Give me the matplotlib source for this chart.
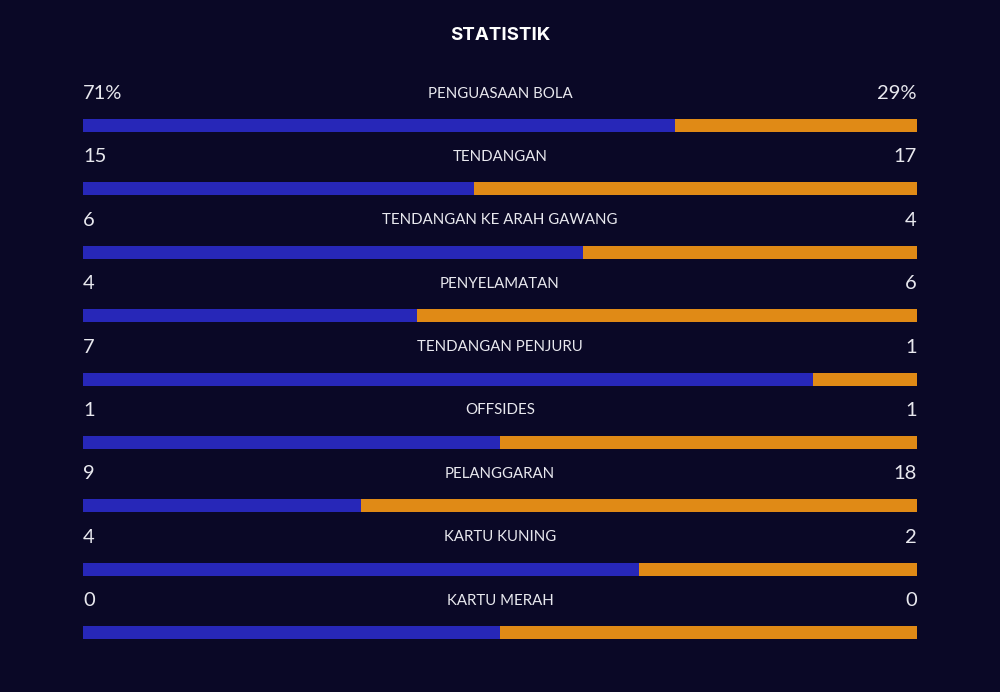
import numpy as np
import matplotlib.pyplot as plt

labels = ["PENGUASAAN BOLA", "TENDANGAN", "TENDANGAN KE ARAH GAWANG", "PENYELAMATAN",
          "TENDANGAN PENJURU", "OFFSIDES", "PELANGGARAN", "KARTU KUNING", "KARTU MERAH"]
home = [71, 15, 6, 4, 7, 1, 9, 4, 0]
away = [29, 17, 4, 6, 1, 1, 18, 2, 0]
home_txt = ["71%", "15", "6", "4", "7", "1", "9", "4", "0"]
away_txt = ["29%", "17", "4", "6", "1", "1", "18", "2", "0"]

bg = "#0a0826"
blue = "#2727b8"
orange = "#e08a16"

plt.rcParams['font.family'] = ['Lato', 'DejaVu Sans']

fig = plt.figure(figsize=(10, 6.92), dpi=100)
fig.patch.set_facecolor(bg)
ax = fig.add_axes([0.083, 0, 0.834, 1])
ax.set_facecolor(bg)
ax.set_xlim(0, 1)
ax.set_ylim(692, 0)
ax.axis("off")

home = np.array(home, dtype=float)
away = np.array(away, dtype=float)
tot = home + away
share = np.where(tot > 0, home / np.where(tot > 0, tot, 1), 0.5)

step = 63.4
ys = 125.5 + step * np.arange(len(labels))
ax.barh(ys, share, height=13, color=blue, linewidth=0)
ax.barh(ys, 1 - share, left=share, height=13, color=orange, linewidth=0)

for y, lab, h, a in zip(ys, labels, home_txt, away_txt):
    ty = y - 32
    ax.text(0, ty, h, color="#e8e8ee", fontsize=14.5, ha="left", va="center")
    ax.text(1, ty, a, color="#e8e8ee", fontsize=14.5, ha="right", va="center")
    ax.text(0.5, ty, lab, color="#e8e8ee", fontsize=10.8, ha="center", va="center")

fig.text(0.5, 1 - 35 / 692, "STATISTIK", color="white", fontsize=13.5,
         fontweight="bold", ha="center", va="center", family=["Inter", "DejaVu Sans"])

fig.savefig("out.png", facecolor=bg)
